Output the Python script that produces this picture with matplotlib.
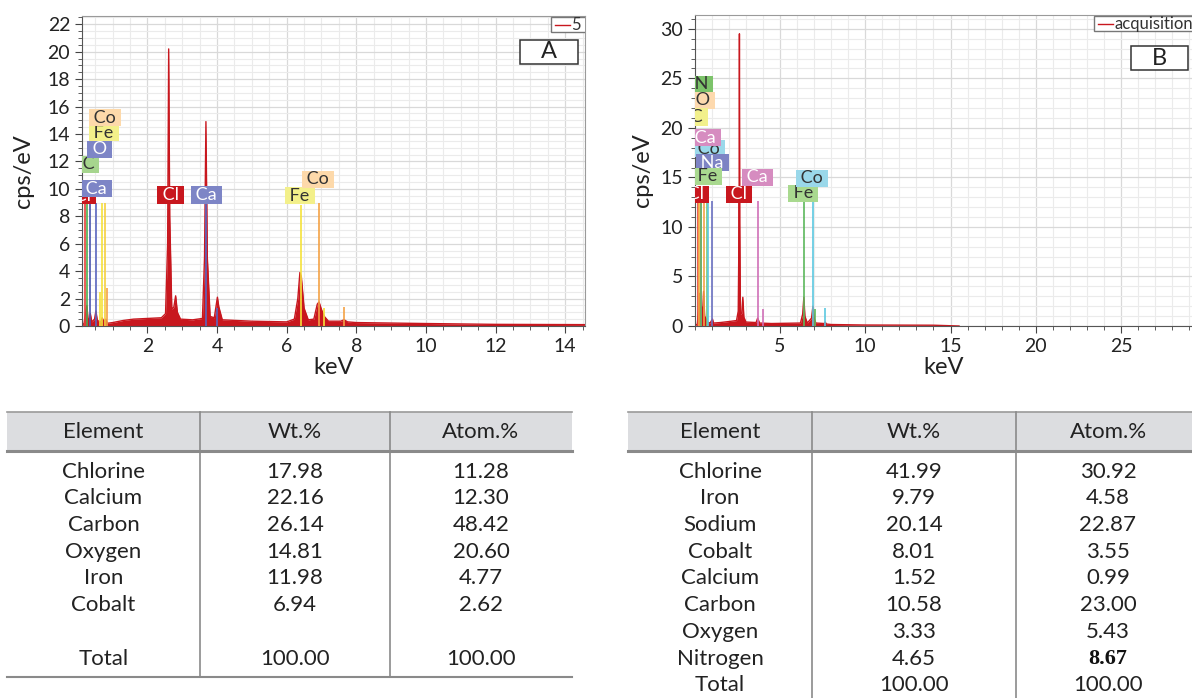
import matplotlib.pyplot as plt
from matplotlib.patches import Rectangle
from matplotlib.ticker import MultipleLocator

plt.rcParams['font.family'] = ['Lato', 'DejaVu Sans']

RED = '#c8171e'

# ---- spectrum A (keV, cps/eV) ----
kev_a = [0.12, 0.18, 0.22, 0.26, 0.29, 0.33, 0.36, 0.40, 0.48, 0.52, 0.56, 0.66, 0.70, 0.75,
         0.80, 0.85, 1.0, 1.3, 1.6, 2.0, 2.4, 2.52, 2.58, 2.61, 2.64, 2.70, 2.76, 2.81, 2.86,
         2.95, 3.3, 3.58, 3.64, 3.68, 3.72, 3.80, 3.92, 3.98, 4.01, 4.05, 4.15, 5.0, 6.0, 6.22,
         6.32, 6.38, 6.42, 6.50, 6.62, 6.78, 6.88, 6.93, 7.0, 7.08, 7.2, 7.55, 7.65, 7.75, 8.0,
         10.0, 12.0, 14.57]
cps_a = [0.0, 0.2, 0.9, 1.5, 0.6, 0.3, 0.9, 0.3, 0.5, 1.1, 0.4, 0.3, 0.6, 0.3,
         0.5, 0.2, 0.25, 0.4, 0.5, 0.55, 0.6, 0.9, 6.0, 20.2, 8.0, 1.2, 1.4, 2.2, 1.0,
         0.5, 0.45, 0.55, 5.0, 14.9, 5.0, 0.7, 0.6, 1.6, 2.1, 1.4, 0.45, 0.35, 0.3, 0.5,
         2.0, 3.9, 3.6, 1.3, 0.45, 0.5, 1.6, 1.75, 1.2, 0.7, 0.35, 0.35, 0.45, 0.3, 0.25,
         0.18, 0.12, 0.1]

# element marker lines A: energy, height, colour
line_e_a = [0.20, 0.277, 0.34, 0.525, 0.63, 0.705, 0.776, 0.85, 2.62, 3.69, 4.01, 6.40, 7.06, 6.93, 7.65]
line_h_a = [9.0, 9.0, 9.0, 9.0, 2.5, 9.0, 9.0, 2.8, 9.0, 9.0, 1.3, 8.8, 1.3, 9.0, 1.4]
line_c_a = ['#e8403a', '#4caf50', '#4a55b0', '#5a66c0', '#f5e23a', '#f5e23a', '#f5d040', '#f4a245',
            RED, '#5a66c0', '#5a66c0', '#f5e23a', '#f5e23a', '#f4a245', '#f4a245']

# element labels A: text, keV, cps, background, text colour
lab_a = [('Cl', 0.15, 9.5, RED, 'white'),
         ('Ca', 0.53, 10.0, '#7d85c6', 'white'),
         ('C', 0.30, 11.8, '#a6d58e', '#333333'),
         ('O', 0.63, 12.9, '#7d85c6', 'white'),
         ('Fe', 0.74, 14.1, '#f3f08a', '#333333'),
         ('Co', 0.78, 15.2, '#fdd9aa', '#333333'),
         ('Cl', 2.66, 9.55, RED, 'white'),
         ('Ca', 3.70, 9.55, '#7d85c6', 'white'),
         ('Fe', 6.37, 9.5, '#f3f08a', '#333333'),
         ('Co', 6.90, 10.7, '#fdd9aa', '#333333')]

# ---- spectrum B ----
kev_b = [0.0, 0.15, 0.22, 0.28, 0.33, 0.39, 0.45, 0.52, 0.58, 0.70, 0.75, 0.9, 1.04, 1.1, 1.5,
         2.0, 2.45, 2.55, 2.60, 2.62, 2.64, 2.68, 2.76, 2.82, 2.88, 3.0, 3.6, 3.69, 3.8, 4.5,
         6.2, 6.33, 6.40, 6.46, 6.6, 6.85, 6.93, 7.0, 7.1, 7.6, 7.65, 7.72, 8.0, 10.0, 14.0, 15.5]
cps_b = [0.0, 0.2, 1.5, 3.3, 1.0, 2.0, 0.8, 3.5, 1.0, 0.6, 0.4, 0.3, 0.7, 0.3, 0.35,
         0.45, 0.55, 1.5, 10.5, 29.5, 10.5, 1.2, 1.3, 2.9, 0.9, 0.4, 0.35, 0.8, 0.3, 0.25,
         0.3, 1.2, 2.9, 1.0, 0.3, 0.8, 2.0, 0.8, 0.3, 0.25, 0.4, 0.2, 0.15, 0.1, 0.08, 0.0]

line_e_b = [0.18, 0.277, 0.34, 0.392, 0.525, 0.705, 0.776, 1.04, 2.62, 3.69, 4.01, 6.40, 7.06, 6.93, 7.65]
line_h_b = [12.8, 12.8, 12.8, 12.8, 12.8, 12.8, 12.8, 12.6, 12.8, 12.6, 1.7, 12.6, 1.7, 12.6, 1.8]
line_c_b = ['#e8403a', '#f0b040', '#d070b8', '#5cb85c', '#f4a245', '#7ccc6a', '#5bc8e0', '#6a70c0',
            RED, '#d070b8', '#d070b8', '#5cb85c', '#5cb85c', '#5bc8e0', '#5bc8e0']

lab_b = [('N', 0.38, 24.4, '#7cc36a', '#333333'),
         ('O', 0.45, 22.8, '#fdd9ae', '#333333'),
         ('C', 0.10, 21.1, '#f2f08c', '#333333'),
         ('Co', 0.80, 17.9, '#9ad8ea', '#333333'),
         ('Ca', 0.62, 19.0, '#d68cc0', 'white'),
         ('Na', 1.04, 16.5, '#7d83c4', 'white'),
         ('Fe', 0.72, 15.1, '#a9d98f', '#333333'),
         ('Cl', 0.05, 13.3, RED, 'white'),
         ('Cl', 2.60, 13.3, RED, 'white'),
         ('Ca', 3.68, 15.0, '#d68cc0', 'white'),
         ('Fe', 6.35, 13.4, '#a9d98f', '#333333'),
         ('Co', 6.88, 14.9, '#9ad8ea', '#333333')]

# ---- quantification tables ----
elem_a = ['Chlorine', 'Calcium', 'Carbon', 'Oxygen', 'Iron', 'Cobalt', '', 'Total']
wt_a = ['17.98', '22.16', '26.14', '14.81', '11.98', '6.94', '', '100.00']
at_a = ['11.28', '12.30', '48.42', '20.60', '4.77', '2.62', '', '100.00']

elem_b = ['Chlorine', 'Iron', 'Sodium', 'Cobalt', 'Calcium', 'Carbon', 'Oxygen', 'Nitrogen', 'Total']
wt_b = ['41.99', '9.79', '20.14', '8.01', '1.52', '10.58', '3.33', '4.65', '100.00']
at_b = ['30.92', '4.58', '22.87', '3.55', '0.99', '23.00', '5.43', '8.67', '100.00']

headers = ['Element', 'Wt.%', 'Atom.%']


def spectrum(ax, kev, cps, line_e, line_h, line_c, labels):
    ax.fill_between(kev, cps, 0, color=RED, lw=0, zorder=2)
    ax.plot(kev, cps, color=RED, lw=1.0, zorder=2)
    ax.vlines(line_e, 0, line_h, colors=line_c, lw=1.2, zorder=3)
    for i, (txt, x, y, bg, fg) in enumerate(labels):
        ax.text(x, y, ' ' + txt + ' ', ha='center', va='center', fontsize=13, color=fg,
                clip_on=True, zorder=5 + i * 0.01,
                bbox=dict(boxstyle='square,pad=0.03', fc=bg, ec='none'))
    ax.set_axisbelow(True)
    ax.grid(which='minor', color='#ebebeb', lw=0.8)
    ax.grid(which='major', color='#d9d9d9', lw=0.9)
    for s in ['top', 'right']:
        ax.spines[s].set_color('#9a9a9a')
    for s in ['left', 'bottom']:
        ax.spines[s].set_color('#555555')
    ax.tick_params(which='both', direction='out', color='#444444', labelsize=14, labelcolor='#222222')
    ax.tick_params(which='major', length=5)
    ax.tick_params(which='minor', length=3)
    ax.set_xlabel('keV', fontsize=17, color='#222222')
    ax.set_ylabel('cps/eV', fontsize=17, color='#222222')


def legend_box(ax, x0, x1, name, tag, tag_box):
    ax.add_patch(Rectangle((x0, 0.948), 0.3, 0.049, transform=ax.transAxes, fc='white',
                           ec='#777777', lw=1, zorder=6, clip_on=True))
    ax.plot([x0 + 0.008, x1], [0.971, 0.971], transform=ax.transAxes, color=RED, lw=1, zorder=7)
    ax.text(x1 + 0.002, 0.971, name, transform=ax.transAxes, ha='left', va='center',
            fontsize=12, color='#333333', clip_on=True, zorder=7)
    bx0, by0, bx1, by1 = tag_box
    ax.add_patch(Rectangle((bx0, by0), bx1 - bx0, by1 - by0, transform=ax.transAxes,
                           fc='white', ec='#333333', lw=1.1, zorder=6))
    ax.text((bx0 + bx1) / 2, (by0 + by1) / 2, tag, transform=ax.transAxes, ha='center',
            va='center', fontsize=17, color='#222222', zorder=7)


fig = plt.figure(figsize=(11.92, 6.98), dpi=100)

ax1 = fig.add_axes([82 / 1192, 372 / 698, 503 / 1192, 310 / 698])
spectrum(ax1, kev_a, cps_a, line_e_a, line_h_a, line_c_a, lab_a)
ax1.set_xlim(0.12, 14.57)
ax1.set_ylim(0, 22.6)
ax1.xaxis.set_major_locator(MultipleLocator(2))
ax1.xaxis.set_minor_locator(MultipleLocator(0.5))
ax1.yaxis.set_major_locator(MultipleLocator(2))
ax1.yaxis.set_minor_locator(MultipleLocator(0.5))
ax1.xaxis.set_label_coords(0.5, -0.1)
ax1.yaxis.set_label_coords(-0.095, 0.5)
legend_box(ax1, 0.932, 0.97, '5', 'A', (0.871, 0.845, 0.986, 0.923))

ax2 = fig.add_axes([694.75 / 1192, 372 / 698, 511.5 / 1192, 311 / 698])
spectrum(ax2, kev_b, cps_b, line_e_b, line_h_b, line_c_b, lab_b)
ax2.set_xlim(0, 30)
ax2.set_ylim(0, 31.4)
ax2.set_xticks([5, 10, 15, 20, 25])
ax2.xaxis.set_minor_locator(MultipleLocator(1))
ax2.yaxis.set_major_locator(MultipleLocator(5))
ax2.yaxis.set_minor_locator(MultipleLocator(1))
ax2.xaxis.set_label_coords(0.487, -0.1)
ax2.yaxis.set_label_coords(-0.081, 0.5)
legend_box(ax2, 0.7806, 0.818, 'acquisition', 'B', (0.853, 0.823, 0.964, 0.900))

# tables drawn on an overlay in pixel units
tab = fig.add_axes([0, 0, 1, 1], zorder=-1)
tab.set_xlim(0, 1192)
tab.set_ylim(698, 0)
tab.axis('off')


def table(left, divs, right, bottom, rows, bottom_line, bold_cell=None):
    edges = [left] + divs + [right]
    tab.add_patch(Rectangle((left, 412), right - left, 39, fc='#dcdde0', ec='none'))
    tab.plot([left, right], [412, 412], color='#9a9a9a', lw=1.2)
    tab.plot([left, right], [451, 451], color='#8a8a8a', lw=2.2)
    if bottom_line:
        tab.plot([left, right], [bottom, bottom], color='#8a8a8a', lw=1.5)
    for d in divs:
        tab.plot([d, d], [412, bottom], color='#8a8a8a', lw=1.2)
    centres = [(edges[i] + edges[i + 1]) / 2 for i in range(3)]
    for c, h in zip(centres, headers):
        tab.text(c, 432, h, ha='center', va='center', fontsize=16, color='#222222')
    for r, (y, cells) in enumerate(rows):
        for k, (c, t) in enumerate(zip(centres, cells)):
            if bold_cell == (r, k):
                tab.text(c, y, t, ha='center', va='center', fontsize=16, color='#111111',
                         family='Liberation Serif', weight='bold')
            else:
                tab.text(c, y, t, ha='center', va='center', fontsize=16, color='#222222')


rows_y_a = [471.7, 498.4, 525.1, 551.8, 578.5, 605.2, 631.9, 658.6]
table(7, [200, 390], 572, 677,
      list(zip(rows_y_a, zip(elem_a, wt_a, at_a))), True)

rows_y_b = [471.7 + 26.7 * i for i in range(9)]
table(628, [812, 1016], 1200, 698,
      list(zip(rows_y_b, zip(elem_b, wt_b, at_b))), False, bold_cell=(7, 2))

fig.savefig('out.png', dpi=100)
